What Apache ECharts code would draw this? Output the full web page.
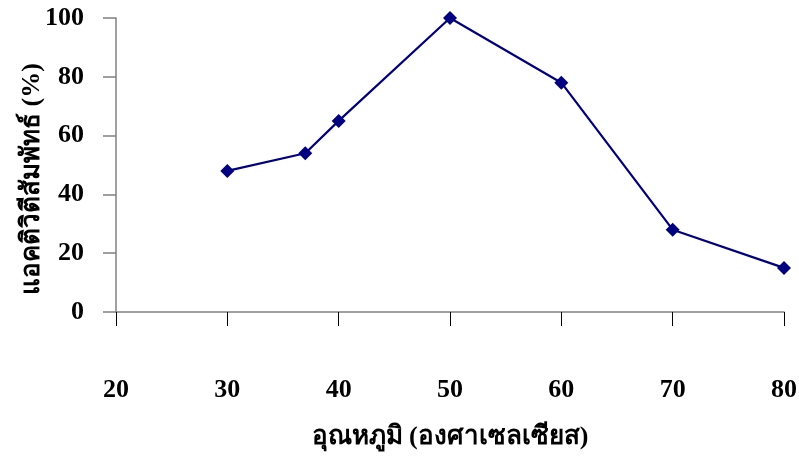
<!DOCTYPE html>
<html>
<head>
<meta charset="utf-8">
<script src="https://cdn.jsdelivr.net/npm/echarts@6/dist/echarts.min.js"></script>
<style>
  html, body { margin: 0; padding: 0; background: #fff; }
  #chart { width: 799px; height: 457px; }
</style>
</head>
<body>
<div id="chart"></div>
<script>
// Temperature (°C) and relative enzyme activity (%)
var temperatures = [30, 37, 40, 50, 60, 70, 80];
var relativeActivity = [48, 54, 65, 100, 78, 28, 15];
var xTicks = [20, 30, 40, 50, 60, 70, 80];
var yTicks = [0, 20, 40, 60, 80, 100];

var xTitle = 'อุณหภูมิ (องศาเซลเซียส)';
var yTitle = 'แอคติวิตีสัมพัทธ์ (%)';

var fontFamily = '"Times New Roman", "Liberation Serif", "DejaVu Serif", serif';

var points = temperatures.map(function (t, i) { return [t, relativeActivity[i]]; });

var chart = echarts.init(document.getElementById('chart'), null, { renderer: 'canvas' });
chart.setOption({
  animation: false,
  backgroundColor: '#ffffff',
  grid: {
    left: 116, right: 15, top: 18, bottom: 145,
    containLabel: false,
    outerBoundsMode: 'none'
  },
  xAxis: {
    type: 'value',
    min: xTicks[0],
    max: xTicks[xTicks.length - 1],
    interval: 10,
    name: xTitle,
    nameLocation: 'middle',
    nameGap: 112,
    nameMoveOverlap: false,
    nameTextStyle: { fontFamily: fontFamily, fontWeight: 'bold', fontSize: 26, color: '#000' },
    axisLine: { show: true, lineStyle: { color: '#808080', width: 1.5 } },
    axisTick: { show: true, inside: false, length: 14, lineStyle: { color: '#000', width: 1 } },
    axisLabel: { margin: 65, fontFamily: fontFamily, fontWeight: 'bold', fontSize: 26, color: '#000' },
    splitLine: { show: false }
  },
  yAxis: {
    type: 'value',
    min: yTicks[0],
    max: yTicks[yTicks.length - 1],
    interval: 20,
    name: yTitle,
    nameLocation: 'middle',
    nameGap: 71,
    nameMoveOverlap: false,
    nameRotate: 90,
    nameTextStyle: { fontFamily: fontFamily, fontWeight: 'bold', fontSize: 26, color: '#000', padding: [0, 28, 0, 0] },
    axisLine: { show: true, lineStyle: { color: '#808080', width: 1.5 } },
    axisTick: { show: true, inside: false, length: 13, lineStyle: { color: '#808080', width: 1.5 } },
    axisLabel: { margin: 32, fontFamily: fontFamily, fontWeight: 'bold', fontSize: 26, color: '#000' },
    splitLine: { show: false }
  },
  series: [{
    type: 'line',
    data: points,
    symbol: 'diamond',
    symbolSize: 14,
    lineStyle: { color: '#000080', width: 2.2 },
    itemStyle: { color: '#000080' }
  }]
});
</script>
</body>
</html>
